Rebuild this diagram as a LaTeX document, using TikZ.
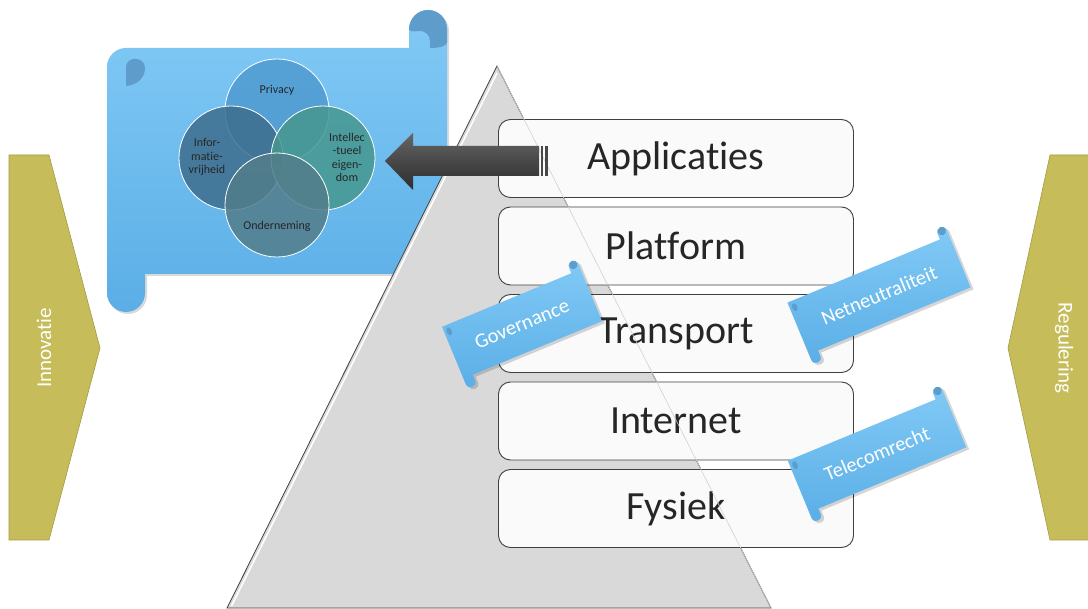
\documentclass[tikz,border=0pt]{standalone}
\usepackage{fontspec}
\setmainfont{Carlito}[Ligatures={NoCommon,NoRequired,NoContextual}]
\usetikzlibrary{calc}
\definecolor{chevcol}{HTML}{C6BD5A}
\definecolor{chevline}{HTML}{A39B45}
\definecolor{scrolltop}{HTML}{82CAF6}
\definecolor{scrollbot}{HTML}{5AAEE6}
\definecolor{scrolldark}{HTML}{5E9DCB}
\definecolor{txtdark}{HTML}{262626}
\definecolor{boxline}{HTML}{404040}
\definecolor{boxfill}{HTML}{FAFAFA}
\definecolor{trifill}{HTML}{D9D9D9}
\definecolor{privcol}{HTML}{4F9AD0}
\definecolor{infocol}{HTML}{3E6E8E}
\definecolor{intcol}{HTML}{46978F}
\definecolor{ondcol}{HTML}{527D8A}
\tikzset{
  chev/.style={fill=chevcol, draw=chevline, line width=0.6pt},
  chevtext/.style={text=white, font=\fontsize{21}{24}\selectfont},
  scrollshape/.style={top color=scrolltop, bottom color=scrollbot, draw=none},
  layerbox/.style={draw=boxline, line width=0.9pt, fill=boxfill, rounded corners=12pt,
    minimum width=355pt, minimum height=78pt, text=txtdark, font=\fontsize{40}{48}\selectfont},
  venn/.style={draw=white, line width=0.8pt, fill opacity=0.85},
  venntext/.style={text=txtdark, font=\fontsize{12}{13.5}\selectfont, align=center},
  bannertext/.style={text=white, font=\fontsize{20.5}{24}\selectfont},
  blockarrow/.style={top color=black!60, bottom color=black!82, middle color=black!72, draw=none},
}
\newcommand\mybanner[5]{%
  \begin{scope}[shift={(#1,#2)}, rotate=22.5]
    \pgfmathsetmacro\hw{#3/2}
    \path[fill=black, fill opacity=0.16, shift={(2,3)}]
      (-\hw,-28) -- (\hw-10,-28) -- (\hw-10,-34) .. controls (\hw-10,-40.7) and (\hw,-40.7) .. (\hw,-34)
      -- (\hw,28) -- (-\hw+10,28) -- (-\hw+10,34) .. controls (-\hw+10,40.7) and (-\hw,40.7) .. (-\hw,34) -- cycle;
    \path[top color=scrolltop, bottom color=scrollbot]
      (-\hw,-28) -- (\hw-10,-28) -- (\hw-10,-34) .. controls (\hw-10,-40.7) and (\hw,-40.7) .. (\hw,-34)
      -- (\hw,28) -- (-\hw+10,28) -- (-\hw+10,34) .. controls (-\hw+10,40.7) and (-\hw,40.7) .. (-\hw,34) -- cycle;
    \fill[scrolldark] (\hw-5,-35) circle (4.2);
    \fill[scrolldark] (-\hw+5,-21) ellipse (2.6 and 4.2);
    \node[bannertext, transform shape] (#5) at (0,0) {#4};
  \end{scope}}
\begin{document}
\begin{tikzpicture}[x=1pt,y=-1pt]
\useasboundingbox (0,0) rectangle (1088,609);
\fill[white] (0,0) rectangle (1088,609);

% side chevrons
\path[chev] (9,155) -- (49,155) -- (100,348) -- (49,540) -- (9,540) -- cycle;
\node[chevtext, rotate=90] (innov) at (44,348) {Innovatie};
\fill[chevcol] (1088,155) -- (1050,155) -- (1008,348) -- (1050,540) -- (1088,540) -- cycle;
\draw[chevline, line width=0.6pt] (1088,155) -- (1050,155) -- (1008,348) -- (1050,540) -- (1088,540);
\node[chevtext, rotate=-90] (regul) at (1064,348) {Regulering};

% big scroll with shadow
\fill[black, fill opacity=0.15] (109,69) .. controls (109,58.5) and (117.5,50) .. (128,50) -- (411,50) -- (411,31) .. controls (411,20.5) and (419.5,12) .. (430,12) .. controls (440.5,12) and (449,20.5) .. (449,31) -- (449,270) .. controls (449,273) and (446,276) .. (443,276) -- (147,276) -- (147,295) .. controls (147,305.5) and (138.5,314) .. (128,314) .. controls (117.5,314) and (109,305.5) .. (109,295) -- cycle;
\path[scrollshape] (107,67) .. controls (107,56.5) and (115.5,48) .. (126,48) -- (409,48) -- (409,29) .. controls (409,18.5) and (417.5,10) .. (428,10) .. controls (438.5,10) and (447,18.5) .. (447,29) -- (447,268) .. controls (447,271) and (444,274) .. (441,274) -- (145,274) -- (145,293) .. controls (145,303.5) and (136.5,312) .. (126,312) .. controls (115.5,312) and (107,303.5) .. (107,293) -- cycle;
\fill[scrolldark] (409,30) .. controls (409,18.5) and (417.5,10) .. (428,10) .. controls (438.5,10) and (447,18.5) .. (447,29) -- (447,42) .. controls (447,46) and (440,48) .. (430,48) -- (430,41) .. controls (430,35) and (425,30) .. (418,31) .. controls (414,31.5) and (411,32) .. (409,30) -- cycle;
\fill[scrolldark] (126,86) -- (126,67) .. controls (126,56) and (145,56) .. (145,68) .. controls (145,78) and (137,85) .. (126,86) -- cycle;

% venn
\path[venn, fill=privcol] (277,111) circle (52);
\path[venn, fill=infocol] (231,158) circle (52);
\path[venn, fill=intcol] (323,158) circle (52);
\path[venn, fill=ondcol] (277,205) circle (52);
\node[venntext] (priv) at (277,90) {Privacy};
\node[venntext] (info) at (207,157) {Infor-\\matie-\\vrijheid};
\node[venntext] (intel) at (347,157.5) {Intellec\\-tueel\\eigen-\\dom};
\node[venntext] (onder) at (277,226) {Onderneming};

% triangle
\path[fill=trifill, draw=black!75, line width=0.8pt] (497,66) -- (771,608) -- (227,608) -- cycle;
\draw[white, line width=1.6pt] (497,73) -- (231.5,606);

% layer boxes
\node[layerbox] (app) at (676,158.5) {Applicaties};
\node[layerbox] (plat) at (676,246) {Platform};
\node[layerbox] (trans) at (676,333.5) {Transport};
\node[layerbox] (inet) at (676,421) {Internet};
\node[layerbox] (fys) at (676,508.5) {Fysiek};
\draw[black!18, line width=0.6pt] (497,66) -- (771,608);

% block arrow
\path[blockarrow] (385,161) -- (413,133) -- (413,146) -- (539,146) -- (539,176) -- (413,176) -- (413,190) -- cycle;
\fill[black!72] (540.5,146) rectangle (543,176);
\fill[black!72] (545,146) rectangle (547.5,176);

% banners
\mybanner{522}{324}{150}{Governance}{gov}
\mybanner{879}{295}{175}{Netneutraliteit}{net}
\mybanner{877}{454}{170}{Telecomrecht}{tel}
\end{tikzpicture}
\end{document}
